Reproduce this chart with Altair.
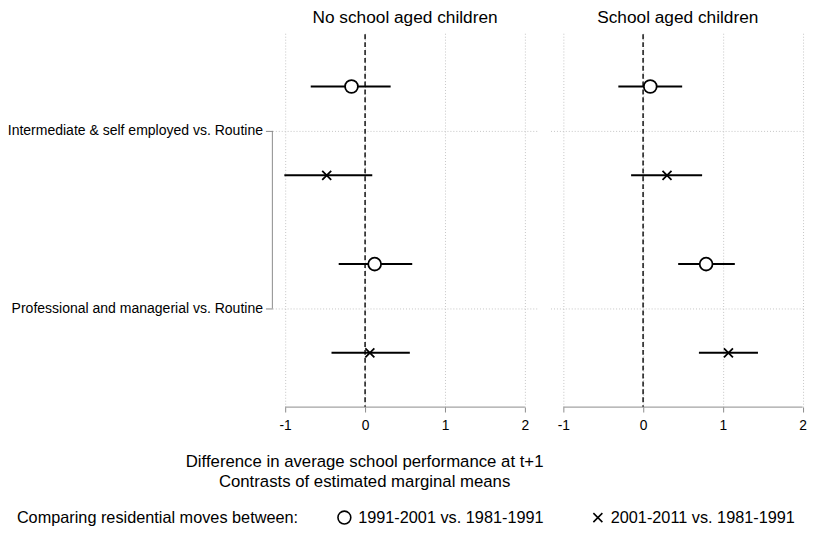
import altair as alt
import pandas as pd

panels = ["No school aged children", "School aged children"]
categories = ["Intermediate & self employed vs. Routine",
              "Professional and managerial vs. Routine"]
series = ["1991-2001 vs. 1981-1991", "2001-2011 vs. 1981-1991"]
x_ticks = [-1, 0, 1, 2]

# [category][series]
est_no = [[-0.17, -0.48], [0.12, 0.06]]
lo_no = [[-0.68, -1.01], [-0.33, -0.42]]
hi_no = [[0.32, 0.09], [0.59, 0.56]]

est_sc = [[0.09, 0.30], [0.79, 1.07]]
lo_sc = [[-0.31, -0.15], [0.44, 0.70]]
hi_sc = [[0.49, 0.74], [1.15, 1.44]]

legend_title = "Comparing residential moves between:"
x_title = ["Difference in average school performance at t+1",
           "Contrasts of estimated marginal means"]

label_pos = [1, 3]
row_offset = [-0.5, 0.5]

FONT = "Liberation Sans"
GRID = "#c4c4c4"
AXC = "#8a8a8a"
H = 380
X_PATH = "M-0.7,-0.7L0.7,0.7M0.7,-0.7L-0.7,0.7"
SHAPES = ["circle", X_PATH]

# legend layout (pixels relative to the left panel's plot area)
LEG_Y = 492
LEG_TITLE_X = -259
LEG_SYM_X = [73, 330]
LEG_LAB_X = [87, 343]


def make_df(est, lo, hi):
    rows = []
    for i, c in enumerate(categories):
        for j, s in enumerate(series):
            rows.append({"category": c, "series": s, "est": est[i][j],
                         "lo": lo[i][j], "hi": hi[i][j],
                         "ypos": label_pos[i] + row_offset[j]})
    return pd.DataFrame(rows)


def panel(name, df, domain, width, left):
    xscale = alt.Scale(domain=domain, nice=False, zero=False)
    yscale = alt.Scale(domain=[-0.111, 4.111], reverse=True, nice=False, zero=False)
    xaxis_kw = dict(values=x_ticks, labelExpr="'' + datum.value", grid=True,
                    gridDash=[1, 2], gridColor=GRID, gridWidth=1, domain=False,
                    tickColor=AXC, tickSize=5, tickWidth=1, labelFontSize=14,
                    labelPadding=7, labelColor="black", labelFont=FONT)
    if left:
        xaxis = alt.Axis(title=x_title, titleFontSize=17, titleFontWeight="normal",
                         titleFont=FONT, titleColor="black", titleX=93, titleY=47,
                         titleAlign="center", titleBaseline="top", titleLineHeight=21,
                         titleAnchor="start", titleLimit=600, **xaxis_kw)
        lab = f"datum.value == {label_pos[0]} ? '{categories[0]}' : '{categories[1]}'"
        yaxis = alt.Axis(values=label_pos, labelExpr=lab, grid=True, gridDash=[1, 2],
                         gridColor=GRID, domain=False, ticks=True, tickSize=7,
                         tickColor=AXC, labelFontSize=14.2, labelPadding=3,
                         labelColor="black", labelFont=FONT, labelLimit=400,
                         title=None)
    else:
        xaxis = alt.Axis(title=None, **xaxis_kw)
        yaxis = alt.Axis(values=label_pos, labels=False, grid=True, gridDash=[1, 2],
                         gridColor=GRID, domain=False, ticks=False, title=None)

    base = alt.Chart(df)
    bars = base.mark_rule(color="black", strokeWidth=2).encode(
        x=alt.X("lo:Q", scale=xscale, axis=xaxis),
        x2="hi:Q",
        y=alt.Y("ypos:Q", scale=yscale, axis=yaxis),
    )
    zero = alt.Chart().mark_rule(color="black", strokeWidth=1.4, strokeDash=[5, 3]).encode(
        x=alt.datum(0), y=alt.value(2), y2=alt.value(H))
    xline = alt.Chart().mark_rule(color=AXC, strokeWidth=1).encode(
        x=alt.datum(x_ticks[0]), x2=alt.datum(x_ticks[-1]), y=alt.value(H))
    pts = base.mark_point(filled=True, fill="white", stroke="black", strokeWidth=1.8,
                          size=170, opacity=1).encode(
        x=alt.X("est:Q", scale=xscale, axis=xaxis),
        y=alt.Y("ypos:Q", scale=yscale, axis=yaxis),
        shape=alt.Shape("series:N", scale=alt.Scale(domain=series, range=SHAPES),
                        legend=None),
    )
    layers = [zero, bars, pts, xline]
    if left:
        bracket = alt.Chart().mark_rule(color=AXC, strokeWidth=1).encode(
            x=alt.value(0), y=alt.datum(label_pos[0]), y2=alt.datum(label_pos[-1]))
        layers.append(bracket)
        # legend row at the bottom
        layers.append(alt.Chart().mark_text(
            align="left", baseline="middle", fontSize=16.5, font=FONT, color="black"
        ).encode(x=alt.value(LEG_TITLE_X), y=alt.value(LEG_Y),
                 text=alt.value(legend_title)))
        for k, s in enumerate(series):
            layers.append(alt.Chart().mark_point(
                filled=True, fill="white", stroke="black", strokeWidth=1.6,
                size=170, opacity=1, shape=SHAPES[k]
            ).encode(x=alt.value(LEG_SYM_X[k]), y=alt.value(LEG_Y)))
            layers.append(alt.Chart().mark_text(
                align="left", baseline="middle", fontSize=16.5, font=FONT,
                color="black"
            ).encode(x=alt.value(LEG_LAB_X[k]), y=alt.value(LEG_Y),
                     text=alt.value(s)))
    return alt.layer(*layers).properties(
        width=width, height=H,
        title=alt.TitleParams(name, fontSize=17.5, fontWeight="normal", font=FONT,
                              color="black", anchor="middle", offset=-8,
                              baseline="alphabetic"),
    )


left = panel(panels[0], make_df(est_no, lo_no, hi_no), [-1.16, 2.16], 269, True)
right = panel(panels[1], make_df(est_sc, lo_sc, hi_sc), [-1.16, 2.03], 258, False)

chart = alt.hconcat(left, right, spacing=13, bounds="flush").properties(
    padding={"left": -1, "top": -3, "right": 0, "bottom": 0}
).configure(font=FONT).configure_view(strokeWidth=0, stroke="transparent")

chart.save("out.html", embed_options={"renderer": "svg", "actions": False})
